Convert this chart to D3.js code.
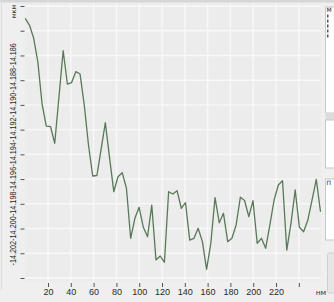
<!DOCTYPE html>
<html><head><meta charset="utf-8">
<script src="https://cdn.jsdelivr.net/npm/d3@7/dist/d3.min.js"></script>
<style>html,body{margin:0;padding:0;background:#efefef;overflow:hidden}</style>
</head><body>
<svg id="c" width="334" height="302"></svg>
<script>
const xValues = [0,3.7,7.4,11.1,14.8,18.5,22.2,25.9,29.6,33.3,37,40.7,44.4,48.1,51.8,55.5,59.2,62.9,66.6,70.3,74,77.7,81.4,85.1,88.8,92.5,96.2,99.9,103.6,107.3,111,114.7,118.4,122.1,125.8,129.5,133.2,136.9,140.6,144.3,148,151.7,155.4,159.1,162.8,166.5,170.2,173.9,177.6,181.3,185,188.7,192.4,196.1,199.8,203.5,207.2,210.9,214.6,218.3,222,225.7,229.4,233.1,236.8,240.5,244.2,247.9,251.6,255.3,259];
const yValues = [-14.18300,-14.18354,-14.18459,-14.18653,-14.18993,-14.19171,-14.19176,-14.19310,-14.18936,-14.18562,-14.18831,-14.18819,-14.18731,-14.18750,-14.19001,-14.19324,-14.19575,-14.19571,-14.19357,-14.19144,-14.19429,-14.19702,-14.19581,-14.19548,-14.19674,-14.20079,-14.19917,-14.19828,-14.19990,-14.20066,-14.19810,-14.20254,-14.20222,-14.20273,-14.19702,-14.19721,-14.19694,-14.19836,-14.19791,-14.20093,-14.20079,-14.19998,-14.20106,-14.20330,-14.20119,-14.19750,-14.19953,-14.19877,-14.20106,-14.20079,-14.19971,-14.19747,-14.19773,-14.19904,-14.19775,-14.20119,-14.20079,-14.20160,-14.19971,-14.19769,-14.19648,-14.19613,-14.20174,-14.19958,-14.19688,-14.19990,-14.20026,-14.19931,-14.19769,-14.19602,-14.19864];
const xTicks = [20,40,60,80,100,120,140,160,180,200,220,240];
const xTickLabels = ["20","40","60","80","100","120","140","160","180","200","220",""];
const yTicks = [-14.204,-14.202,-14.200,-14.198,-14.196,-14.194,-14.192,-14.190,-14.188,-14.186,-14.184,-14.182];
const yTickLabels = ["","-14.202","-14.200","-14.198","-14.196","-14.194","-14.192","-14.190","-14.188","-14.186","",""];
const xUnit = "нм", yUnit = "мкм";

const svg = d3.select("#c");
const x = d3.scaleLinear().domain([0,259]).range([25.2,320.5]);
const y = d3.scaleLinear().domain([-14.204,-14.182]).range([278,6]);

svg.append("rect").attr("x",0).attr("y",0).attr("width",334).attr("height",2.5).attr("fill","#d6d6d6");
svg.append("line").attr("x1",1.5).attr("x2",1.5).attr("y1",3).attr("y2",290).attr("stroke","#dcdcdc");
svg.append("rect").attr("x",25).attr("y",3).attr("width",296).attr("height",279).attr("fill","#ececec");

svg.append("g").selectAll("line").data(xTicks).join("line")
  .attr("x1",d=>x(d)).attr("x2",d=>x(d)).attr("y1",3).attr("y2",282)
  .attr("stroke","#f8f8f8").attr("stroke-width",1.4);
svg.append("g").selectAll("line").data(yTicks).join("line")
  .attr("x1",25).attr("x2",321).attr("y1",d=>y(d)).attr("y2",d=>y(d))
  .attr("stroke","#f8f8f8").attr("stroke-width",1.4);

const xAxis = d3.axisBottom(x).tickValues(xTicks).tickSize(4).tickPadding(2)
  .tickFormat((d,i)=>xTickLabels[i]);
const gx = svg.append("g").attr("transform","translate(0,283)").call(xAxis);
gx.select(".domain").remove();
gx.selectAll("line").attr("stroke","#555");
gx.selectAll("text").attr("fill","#2a2a2a").attr("font-size","9px").attr("font-family","Liberation Sans")
  .attr("dy","0.72em");
svg.append("text").attr("x",321).attr("y",294.5).attr("text-anchor","middle")
  .attr("font-size","7.5px").attr("font-family","DejaVu Sans").attr("fill","#333").text(xUnit);

const yAxis = d3.axisLeft(y).tickValues(yTicks).tickSize(4).tickFormat("");
const gy = svg.append("g").attr("transform","translate(24.5,0)").call(yAxis);
gy.select(".domain").remove();
gy.selectAll("line").attr("stroke","#555");
svg.append("g").selectAll("text").data(yTicks.map((v,i)=>({v,l:yTickLabels[i]})).filter(d=>d.l)).join("text")
  .attr("transform",d=>`translate(16,${y(d.v)}) rotate(-90)`)
  .attr("text-anchor","middle").attr("font-size","8.5px").attr("font-family","Liberation Sans")
  .attr("fill","#2a2a2a").attr("textLength",24.5).attr("lengthAdjust","spacingAndGlyphs").text(d=>d.l);
svg.append("text").attr("transform","translate(16,11.5) rotate(-90)").attr("text-anchor","middle")
  .attr("font-size","6.5px").attr("font-family","DejaVu Sans").attr("fill","#333").text(yUnit);

const pts = xValues.map((v,i)=>[v,yValues[i]]);
svg.append("path").datum(pts)
  .attr("d",d3.line().x(d=>x(d[0])).y(d=>y(d[1])))
  .attr("fill","none").attr("stroke","#587858").attr("stroke-width",1.3).attr("stroke-linejoin","round");

const rp = svg.append("g");
rp.append("rect").attr("x",325.5).attr("y",7).attr("width",10).attr("height",106).attr("fill","#fff").attr("stroke","#c8c8c8");
rp.append("rect").attr("x",325.5).attr("y",113).attr("width",10).attr("height",7).attr("fill","#dcdcdc");
rp.append("rect").attr("x",325.5).attr("y",120).attr("width",10).attr("height",48).attr("fill","#fff").attr("stroke","#c8c8c8");
rp.append("rect").attr("x",325.5).attr("y",179).attr("width",10).attr("height",61).attr("fill","#fff").attr("stroke","#c8c8c8");
rp.append("rect").attr("x",327.5).attr("y",253).attr("width",10).attr("height",40).attr("rx",2).attr("fill","#e6e6e6").attr("stroke","#cfcfcf");
rp.append("text").attr("x",326.5).attr("y",12).attr("font-size","6px").attr("font-family","DejaVu Sans").attr("fill","#222").text("M");
rp.append("text").attr("x",326.5).attr("y",185).attr("font-size","6px").attr("font-family","DejaVu Sans").attr("fill","#222").text("П");
rp.selectAll("rect.m").data([16,21,26,31,36]).join("rect").attr("class","m")
  .attr("x",327).attr("y",d=>d-1.5).attr("width",1.5).attr("height",3).attr("fill","#555");
</script>
</body></html>
